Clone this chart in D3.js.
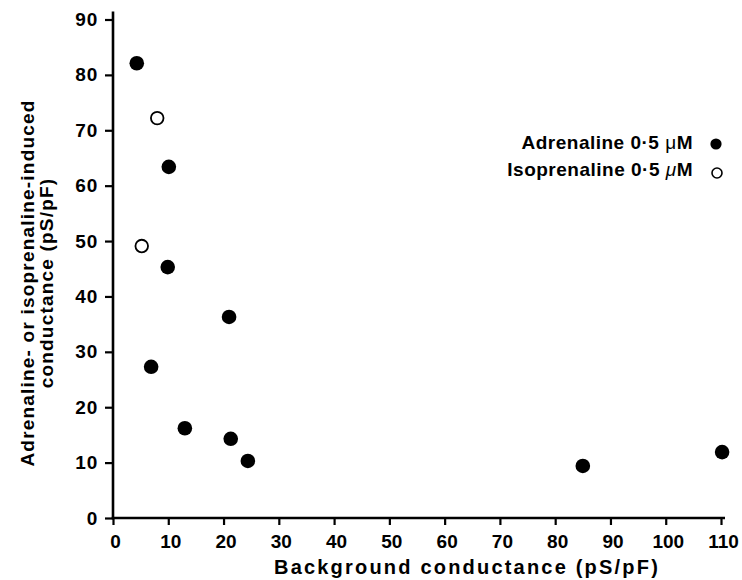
<!DOCTYPE html>
<html>
<head>
<meta charset="utf-8">
<script src="https://cdn.jsdelivr.net/npm/d3@7"></script>
<style>
  html, body { margin: 0; padding: 0; background: #fff; }
  svg text { font-family: "Liberation Sans", Arial, Helvetica, sans-serif; font-weight: bold; fill: #000; }
</style>
</head>
<body>
<svg id="chart" width="742" height="580"></svg>
<script>
// Background conductance vs. agonist-induced conductance (pS/pF)
const adrenalineX = [4.3, 10.1, 9.9, 21.0, 6.9, 13.0, 21.3, 24.4, 85.0, 110.2];
const adrenalineY = [82.1, 63.4, 45.3, 36.3, 27.3, 16.2, 14.3, 10.3, 9.4, 11.9];
const isoprenalineX = [8.0, 5.2];
const isoprenalineY = [72.2, 49.1];
const xTicks = [0, 10, 20, 30, 40, 50, 60, 70, 80, 90, 100, 110];
const yTicks = [0, 10, 20, 30, 40, 50, 60, 70, 80, 90];
const legendLabels = ["Adrenaline 0·5 ", "Isoprenaline 0·5 "];

const svg = d3.select("#chart");
const x = d3.scaleLinear().domain([0, 110]).range([113, 721]);
const y = d3.scaleLinear().domain([0, 90]).range([518, 19.5]);

// Axes
const xAxis = svg.append("g")
  .attr("transform", `translate(0,${y(0)})`)
  .call(d3.axisBottom(x).tickValues(xTicks).tickSize(7).tickPadding(6).tickSizeOuter(0));
const yAxis = svg.append("g")
  .attr("transform", `translate(${x(0)},0)`)
  .call(d3.axisLeft(y).tickValues(yTicks).tickSize(8).tickPadding(7).tickSizeOuter(0));

[xAxis, yAxis].forEach(g => {
  g.select(".domain").attr("stroke", "#000").attr("stroke-width", 2.6);
  g.selectAll(".tick line").attr("stroke", "#000").attr("stroke-width", 2.2);
  g.selectAll(".tick text").attr("fill", "#000");
});
xAxis.selectAll(".tick text").style("font-size", "19px").attr("y", 30).attr("dy", 0).attr("dx", 2);
yAxis.selectAll(".tick text").style("font-size", "19px").style("letter-spacing", "0.8px");
// Extend the domain lines slightly past the end ticks
xAxis.select(".domain").attr("d", `M${x(0) - 1.3},0H${x(110) + 4}`);
yAxis.select(".domain").attr("d", `M0,${y(0) + 1.3}V${y(90) - 8}`);

// Axis titles
svg.append("text")
  .attr("x", 467).attr("y", 574)
  .attr("text-anchor", "middle")
  .style("font-size", "20px")
  .style("letter-spacing", "2.2px")
  .text("Background conductance (pS/pF)");

const yTitle = svg.append("text")
  .attr("transform", "translate(0,283) rotate(-90)")
  .attr("text-anchor", "middle")
  .style("font-size", "19px")
  .style("letter-spacing", "1.2px");
yTitle.append("tspan").attr("x", 0).attr("y", 34).text("Adrenaline- or isoprenaline-induced");
yTitle.append("tspan").attr("x", 0).attr("y", 53).text("conductance (pS/pF)");

// Data points
svg.append("g").selectAll("circle")
  .data(adrenalineX.map((v, i) => [v, adrenalineY[i]]))
  .join("circle")
  .attr("cx", d => x(d[0])).attr("cy", d => y(d[1]))
  .attr("r", 7.3).attr("fill", "#000");

svg.append("g").selectAll("circle")
  .data(isoprenalineX.map((v, i) => [v, isoprenalineY[i]]))
  .join("circle")
  .attr("cx", d => x(d[0])).attr("cy", d => y(d[1]))
  .attr("r", 6.3).attr("fill", "#fff").attr("stroke", "#000").attr("stroke-width", 1.8);

// Legend
const legend = svg.append("g");
const l1 = legend.append("text").attr("x", 693).attr("y", 149).attr("text-anchor", "end")
  .style("font-size", "19px").style("letter-spacing", "0.5px");
l1.append("tspan").text(legendLabels[0]);
l1.append("tspan").style("font-weight", "normal").text("μ");
l1.append("tspan").text("M");
const l2 = legend.append("text").attr("x", 693).attr("y", 176).attr("text-anchor", "end")
  .style("font-size", "19px").style("letter-spacing", "0.5px");
l2.append("tspan").text(legendLabels[1]);
l2.append("tspan").style("font-style", "italic").style("font-weight", "normal").text("μ");
l2.append("tspan").text("M");
legend.append("circle").attr("cx", 716).attr("cy", 144).attr("r", 5.6).attr("fill", "#000");
legend.append("circle").attr("cx", 717).attr("cy", 173).attr("r", 5).attr("fill", "#fff").attr("stroke", "#000").attr("stroke-width", 1.6);
</script>
</body>
</html>
